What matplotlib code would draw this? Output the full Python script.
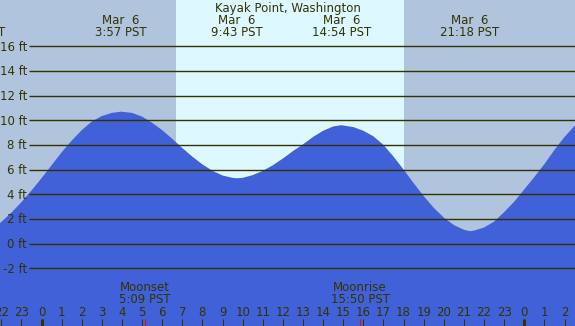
import matplotlib
matplotlib.use("Agg")
import matplotlib.pyplot as plt

# ---- data ----
title = "Kayak Point, Washington"

# tide height samples (hours relative to Mar 6 00:00 PST, feet)
tide_hours = [-2.5, -2.0, -1.5, -1.0, -0.5, 0.0, 0.5, 1.0, 1.5, 2.0, 2.5, 3.0, 3.5,
              3.95, 4.5, 5.0, 5.5, 6.0, 6.5, 7.0, 7.5, 8.0, 8.5, 9.0, 9.5,
              9.72, 10.0, 10.5, 11.0, 11.5, 12.0, 12.5, 13.0, 13.5, 14.0, 14.5,
              14.9, 15.5, 16.0, 16.5, 17.0, 17.5, 18.0, 18.5, 19.0, 19.5, 20.0,
              20.5, 21.0, 21.3, 21.5, 22.0, 22.5, 23.0, 23.5, 24.0, 24.5, 25.0,
              25.5, 26.0, 26.5, 27.0]
tide_feet = [1.15, 1.75, 2.5, 3.35, 4.3, 5.3, 6.35, 7.4, 8.35, 9.2, 9.9, 10.35, 10.6,
             10.7, 10.6, 10.3, 9.8, 9.2, 8.5, 7.75, 7.05, 6.42, 5.9, 5.52, 5.33,
             5.3, 5.33, 5.55, 5.9, 6.35, 6.9, 7.5, 8.05, 8.65, 9.15, 9.5,
             9.6, 9.45, 9.15, 8.7, 8.0, 7.05, 6.0, 4.9, 3.85, 2.9, 2.1,
             1.5, 1.12, 1.0, 1.05, 1.3, 1.78, 2.55, 3.4, 4.4, 5.4, 6.45,
             7.6, 8.65, 9.55, 10.25]

# labelled extremes
extreme_hours = [-3.26, 3.95, 9.72, 14.9, 21.3]
extreme_dates = ["Mar  5", "Mar  6", "Mar  6", "Mar  6", "Mar  6"]
extreme_times = ["20:44 PST", "3:57 PST", "9:43 PST", "14:54 PST", "21:18 PST"]

# daylight
sunrise = 6.683
sunset = 18.017

# moon events
moon_hours = [5.15, 15.833]
moon_names = ["Moonset", "Moonrise"]
moon_times = ["5:09 PST", "15:50 PST"]

# axis
hour_ticks = list(range(-2, 27))
hour_labels = [str(h % 24) for h in hour_ticks]
midnights = [0, 24]
ft_levels = [-2, 0, 2, 4, 6, 8, 10, 12, 14, 16]

# ---- style ----
W, H = 575, 326
night_c = "#B0C4DE"
day_c = "#DDF8FF"
water_c = "#4161D8"
ink = "#333300"
fs = 8.5

fig = plt.figure(figsize=(W / 100, H / 100), dpi=100)
ax = fig.add_axes([0, 0, 1, 1])
xmin, xmax = -2.063, 26.52
ymin, ymax = -6.69, 19.76
ax.set_xlim(xmin, xmax)
ax.set_ylim(ymin, ymax)
ax.axis("off")

ax.axvspan(xmin, xmax, color=night_c, lw=0, zorder=0)
ax.axvspan(sunrise, sunset, color=day_c, lw=0, zorder=1)

ax.fill_between(tide_hours, tide_feet, ymin - 5, color=water_c, lw=0, zorder=2)

yt = ax.get_yaxis_transform()
xt = ax.get_xaxis_transform()
ppf = H / (ymax - ymin)  # pixels per foot

ax.hlines(ft_levels, 29 / W, 1, transform=yt, color=ink, lw=1.0, zorder=3)
for lv in ft_levels:
    ax.text(27 / W, lv - 4.4 / ppf, f"{lv} ft", transform=yt, ha="right",
            va="baseline", fontsize=fs, color=ink, zorder=4)

def ypix(p):
    return 1 - p / H

ax.text(0.5, ypix(12), title, transform=ax.transAxes, ha="center",
        va="baseline", fontsize=fs, color=ink, zorder=4)
for t, d, s in zip(extreme_hours, extreme_dates, extreme_times):
    ax.text(t, ypix(24.3), d, transform=xt, ha="center", va="baseline",
            fontsize=fs, color=ink, zorder=4, clip_on=True)
    ax.text(t, ypix(36.3), s, transform=xt, ha="center", va="baseline",
            fontsize=fs, color=ink, zorder=4, clip_on=True)

for t, n, s in zip(moon_hours, moon_names, moon_times):
    ax.text(t, ypix(291.3), n, transform=xt, ha="center", va="baseline",
            fontsize=fs, color=ink, zorder=4)
    ax.text(t, ypix(303.3), s, transform=xt, ha="center", va="baseline",
            fontsize=fs, color=ink, zorder=4)

tick_top = (H - 318.7) / H
for h, lab in zip(hour_ticks, hour_labels):
    ax.text(h, ypix(316.3), lab, transform=xt, ha="center", va="baseline",
            fontsize=fs, color=ink, zorder=4, clip_on=True)
ax.vlines(hour_ticks, 0, tick_top, transform=xt, color=ink, lw=0.75, zorder=4)
ax.vlines(midnights, 0, tick_top, transform=xt, color=ink, lw=2.2, zorder=4)
ax.vlines(moon_hours, 0, tick_top, transform=xt, color="red", lw=0.75, zorder=5)

fig.savefig("out.png", dpi=100)
